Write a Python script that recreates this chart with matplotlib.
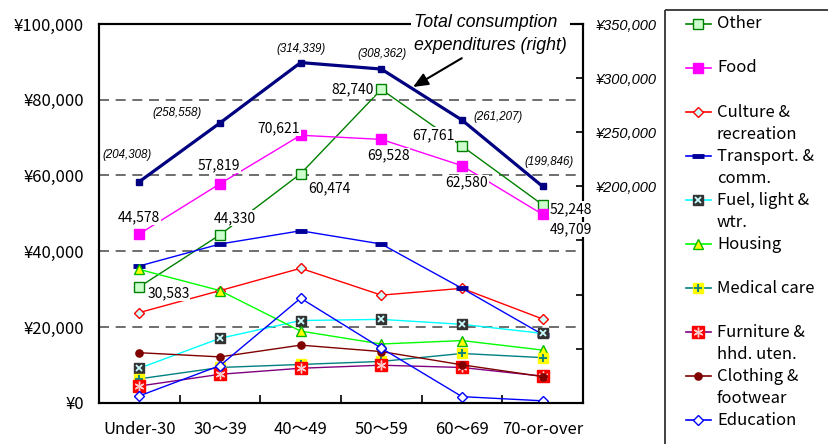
import matplotlib
matplotlib.use('Agg')
import matplotlib.pyplot as plt
from matplotlib.patches import Rectangle

plt.rcParams['font.family'] = ['Noto Sans CJK JP', 'DejaVu Sans']
ITALIC = ['Liberation Sans', 'DejaVu Sans']

# 世帯主の年齢階級別 消費支出（月平均）
ages = ['Under-30', '30～39', '40～49', '50～59', '60～69', '70-or-over']

total = [204308, 258558, 314339, 308362, 261207, 199846]
other = [30583, 44330, 60474, 82740, 67761, 52248]
food = [44578, 57819, 70621, 69528, 62580, 49709]
culture = [23800, 29600, 35500, 28400, 30200, 22100]
transport = [36100, 41900, 45400, 41900, 30200, 18000]
fuel = [9100, 17000, 21700, 22000, 20700, 18300]
housing = [35200, 29600, 18900, 15500, 16400, 13900]
medical = [6300, 9300, 10100, 10900, 13000, 11900]
furniture = [4400, 7500, 9100, 9900, 9300, 7000]
clothing = [13200, 12100, 15200, 13500, 10000, 6900]
education = [1800, 9800, 27600, 14400, 1600, 500]

left_ticks = [0, 20000, 40000, 60000, 80000, 100000]
right_ticks = [0, 50000, 100000, 150000, 200000, 250000, 300000, 350000]

# label offsets in pixels (dx, dy)
other_off = [(29, -6), (15, 17), (29, -15), (-29, 0), (-29, 11), (28, -4)]
food_off = [(0, 17), (-1, 18), (-22, 7), (7, -16), (5, -17), (28, -15)]
total_off = [(-12, 27), (-43, 10), (0, 14), (1, 15), (36, 3), (6, 24)]

series = [
    ('Other', other, dict(color='#008000', marker='s', ms=6.5, mfc='#ccffcc', mec='#008000')),
    ('Food', food, dict(color='#ff00ff', marker='s', ms=6.5, mfc='#ff00ff', mec='#ff00ff')),
    ('Culture &\nrecreation', culture, dict(color='#ff0000', marker='D', ms=5, mfc='#ccffff', mec='#ff0000')),
    ('Transport. &\ncomm.', transport, dict(color='#0000ff', marker='_', ms=8, mew=3.5, mec='#000099')),
    ('Fuel, light &\nwtr.', fuel, dict(color='#00ffff', marker='s', ms=6.7, mfc='#333333', mec='#333333',
                                      inner=('x', '#ccffff', 4.5, 1.3))),
    ('Housing', housing, dict(color='#00ff00', marker='^', ms=7, mfc='#ffff00', mec='#00bb00')),
    ('Medical care', medical, dict(color='#008080', marker='s', ms=6.5, mfc='#ffff00', mec='#ffff00',
                                   inner=('+', '#008080', 6, 1.3))),
    ('Furniture &\nhhd. uten.', furniture, dict(color='#800080', marker='s', ms=8.4, mfc='#ff0000', mec='#ff0000',
                                                inner=((6, 2, 0), '#ffcccc', 7, 1.0))),
    ('Clothing &\nfootwear', clothing, dict(color='#800000', marker='o', ms=5.2, mfc='#800000', mec='#800000')),
    ('Education', education, dict(color='#0000ff', marker='D', ms=5, mfc='white', mec='#0000ff')),
]


def draw_series(axis, xs, ys, st, lw=1.0, markevery=None, z=3):
    axis.plot(xs, ys, color=st['color'], lw=lw, marker=st['marker'], ms=st['ms'],
              mfc=st.get('mfc', st['color']), mec=st.get('mec', st['color']),
              mew=st.get('mew', 1.0), markevery=markevery, zorder=z)
    if 'inner' in st:
        m, c, s, w = st['inner']
        axis.plot(xs, ys, linestyle='none', marker=m, ms=s, mec=c, mfc=c, mew=w,
                  markevery=markevery, zorder=z + 0.01)


fig = plt.figure(figsize=(8.29, 4.44), dpi=100)
W, H = 829, 444
ax = fig.add_axes([99 / W, (H - 402.7) / H, 484 / W, 378.7 / H])
x = list(range(len(ages)))

for i, (name, vals, st) in enumerate(series):
    draw_series(ax, x, vals, st, z=3 + i * 0.1)

ax.set_xlim(-0.5, 5.5)
ax.set_ylim(0, 100000)
ax.set_yticks(left_ticks, [f'¥{t:,}' for t in left_ticks], fontsize=12)
ax.tick_params(axis='y', length=0, pad=11)
ax.set_xticks([0.5, 1.5, 2.5, 3.5, 4.5])
ax.set_xticklabels([])
ax.set_xticks(x, ages, minor=True, fontsize=12)
ax.tick_params(axis='x', which='major', direction='in', length=6, width=1.2)
ax.tick_params(axis='x', which='minor', length=0, pad=13.5)
ax.yaxis.grid(True, linestyle=(0, (6, 4)), color='#555555', lw=1.2)
ax.set_axisbelow(True)
for sp in ax.spines.values():
    sp.set_linewidth(1.5)
    sp.set_color('black')

ax2 = ax.twinx()
ax2.plot(x, total, color='#000080', lw=2.3, marker='s', ms=3.8, zorder=4)
ax2.set_ylim(0, 350000)
ax2.set_yticks(right_ticks, [f'¥{t:,}' if t >= 200000 else '' for t in right_ticks],
               fontsize=10.5, fontstyle='italic', family=ITALIC)
ax2.tick_params(axis='y', direction='in', length=5, width=1.2, pad=9)
for sp in ax2.spines.values():
    sp.set_linewidth(1.5)
    sp.set_color('black')

# value labels (on the upper axes so they mask spines and lines)
box = dict(facecolor='white', edgecolor='none', pad=0.5)
for i, v in enumerate(other):
    ax2.annotate(f'{v:,}', xy=(i, v), xycoords=ax.transData, xytext=other_off[i],
                 textcoords='offset pixels', ha='center', va='center', fontsize=10,
                 bbox=box, zorder=6)
for i, v in enumerate(food):
    ax2.annotate(f'{v:,}', xy=(i, v), xycoords=ax.transData, xytext=food_off[i],
                 textcoords='offset pixels', ha='center', va='center', fontsize=10,
                 bbox=box, zorder=6)
for i, v in enumerate(total):
    ax2.annotate(f'({v:,})', xy=(i, v), xytext=total_off[i], textcoords='offset pixels',
                 ha='center', va='center', fontsize=8.3, fontstyle='italic', family=ITALIC,
                 zorder=6)

ax2.annotate('Total consumption\nexpenditures (right)', xy=(413, H - 87), xycoords='figure pixels',
             xytext=(414, H - 34), textcoords='figure pixels', ha='left', va='center',
             fontsize=12.8, fontstyle='italic', family=ITALIC, linespacing=1.45,
             bbox=dict(facecolor='white', edgecolor='none', pad=2),
             arrowprops=dict(arrowstyle='-|>,head_length=0.7,head_width=0.3', color='black',
                             lw=1.5, relpos=(0.36, 0), shrinkA=2, shrinkB=0),
             zorder=7)

# legend panel
lax = fig.add_axes([0, 0, 1, 1], zorder=-1)
lax.set_xlim(0, W)
lax.set_ylim(H, 0)
lax.axis('off')
lax.add_patch(Rectangle((665, 10), 200, 460, fill=False, edgecolor='#333333', lw=1.3))
y = 24
for name, vals, st in series:
    draw_series(lax, [686, 698.5, 711], [y, y, y], st, lw=1.2, markevery=[1])
    lines = name.split('\n')
    for k, line in enumerate(lines):
        lax.text(717, y + 22 * k, line, fontsize=12, ha='left', va='center')
    y += 44

fig.savefig('out.png', dpi=100)
